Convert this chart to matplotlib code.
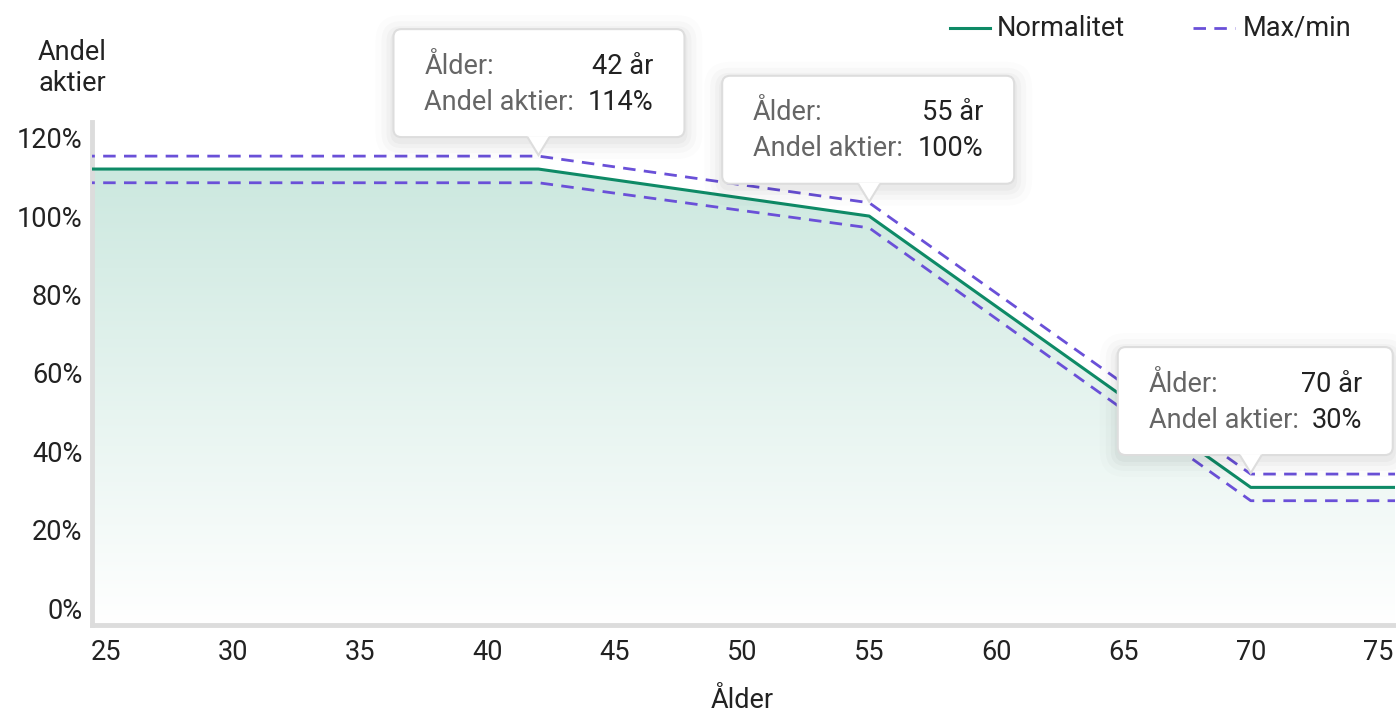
import matplotlib
matplotlib.use("Agg")
import matplotlib.pyplot as plt
import numpy as np
from matplotlib.patches import FancyBboxPatch, Polygon
from matplotlib.path import Path as MPath
from matplotlib.patches import PathPatch

plt.rcParams["font.family"] = ["Roboto", "DejaVu Sans"]

# data
ages = [20, 42, 55, 70, 80]
normal = [112, 112, 100, 30.8, 30.8]
upper = [115.3, 115.3, 103.4, 34.2, 34.2]
lower = [108.5, 108.5, 97.0, 27.4, 27.4]
x_ticks = [25, 30, 35, 40, 45, 50, 55, 60, 65, 70, 75]
y_ticks = [0, 20, 40, 60, 80, 100, 120]
tooltip_ages = [42, 55, 70]
tooltip_values = ["114%", "100%", "30%"]
tooltip_anchor = [115.3, 103.4, 34.2]

GREEN = "#0e8a66"
PURPLE = "#6a50d8"
AXIS = "#dcdcdc"
TEXT = "#222222"
FS = 19.5

W, H = 1396, 714
fig = plt.figure(figsize=(W / 100, H / 100), dpi=100)
ax = fig.add_axes([92 / W, (H - 625) / H, (1395 - 92) / W, (625 - 122) / H])
ax.set_xlim(24.45, 75.67)
ax.set_ylim(-4.3, 124)

# gradient fill under the main line
grad = np.linspace(0, 1, 256).reshape(-1, 1)
cmap = matplotlib.colors.LinearSegmentedColormap.from_list(
    "g", [(1, 1, 1, 1), (0.80, 0.91, 0.875, 1)])
img = ax.imshow(grad, cmap=cmap, aspect="auto", origin="lower",
                extent=[24.45, 75.67, -4.3, max(normal)], zorder=1)
verts = [(ages[0], -4.3)] + list(zip(ages, normal)) + [(ages[-1], -4.3)]
clip = Polygon(verts, closed=True, transform=ax.transData, facecolor="none", edgecolor="none")
ax.add_patch(clip)
img.set_clip_path(clip)

ax.plot(ages, upper, color=PURPLE, lw=2, ls=(0, (4.5, 3)), zorder=3)
ax.plot(ages, lower, color=PURPLE, lw=2, ls=(0, (4.5, 3)), zorder=3)
ax.plot(ages, normal, color=GREEN, lw=2.2, zorder=4)

for side in ["top", "right"]:
    ax.spines[side].set_visible(False)
for side in ["left", "bottom"]:
    ax.spines[side].set_color(AXIS)
    ax.spines[side].set_linewidth(3.5)
ax.set_xticks(x_ticks)
ax.set_yticks(y_ticks)
ax.set_yticklabels([f"{v}%" for v in y_ticks])
ax.tick_params(length=0, labelsize=FS, colors=TEXT)
ax.tick_params(axis="y", pad=7)
ax.tick_params(axis="x", pad=10)

fig.text(742 / W, 1 - 701 / H, "Ålder", ha="center", va="center", fontsize=FS, color=TEXT)
fig.text(38 / W, 1 - 68 / H, "Andel\naktier", ha="left", va="center", fontsize=FS,
         color=TEXT, linespacing=1.2)

# legend
fig.lines.append(plt.Line2D([950 / W, 990 / W], [1 - 28 / H] * 2, color=GREEN, lw=2.2,
                            transform=fig.transFigure))
fig.text(997 / W, 1 - 28 / H, "Normalitet", ha="left", va="center", fontsize=FS, color=TEXT)
fig.lines.append(plt.Line2D([1193 / W, 1235 / W], [1 - 28 / H] * 2, color=PURPLE, lw=2,
                            ls=(0, (4.5, 3)), transform=fig.transFigure))
fig.text(1243 / W, 1 - 28 / H, "Max/min", ha="left", va="center", fontsize=FS, color=TEXT)

# tooltips (box offsets in pixels from anchor point)
fig.canvas.draw()
box_specs = [(-145, 146, 128), (-147, 145, 128), (-133, 142, 127)]
for (age, val, yv), (dl, dr, dh) in zip(zip(tooltip_ages, tooltip_values, tooltip_anchor), box_specs):
    px, py = ax.transData.transform((age, yv))
    bx0, bx1 = px + dl, px + dr
    by0 = py + 19
    by1 = by0 + 108
    # soft shadow
    for k, a in [(18, 0.012), (12, 0.018), (7, 0.022), (3, 0.028)]:
        sh = FancyBboxPatch((bx0 - k, by0 - k - 4), bx1 - bx0 + 2 * k, by1 - by0 + 2 * k,
                            boxstyle=f"round,pad=0,rounding_size={8 + k}", transform=None,
                            facecolor="black", edgecolor="none", alpha=a, zorder=8)
        fig.patches.append(sh)
    box = FancyBboxPatch((bx0, by0), bx1 - bx0, by1 - by0,
                         boxstyle="round,pad=0,rounding_size=8", transform=None,
                         facecolor="white", edgecolor="#dddddd", lw=1.5, zorder=9)
    fig.patches.append(box)
    tri = Polygon([(px - 11, by0 + 1), (px + 11, by0 + 1), (px, py + 1)], closed=True,
                  transform=None, facecolor="white", edgecolor="none", zorder=10)
    fig.patches.append(tri)
    edge = MPath([(px - 11, by0), (px, py + 1), (px + 11, by0)])
    fig.patches.append(PathPatch(edge, transform=None, facecolor="none",
                                 edgecolor="#dddddd", lw=1.5, zorder=10))
    tx0 = bx0 + 31
    tx1 = bx1 - 31
    fig.text(tx0 / W, (by1 - 37) / H, "Ålder:", ha="left", va="center", fontsize=FS,
             color="#666666", zorder=11)
    fig.text(tx1 / W, (by1 - 37) / H, f"{age} år", ha="right", va="center", fontsize=FS,
             color=TEXT, zorder=11)
    fig.text(tx0 / W, (by1 - 73) / H, "Andel aktier:", ha="left", va="center", fontsize=FS,
             color="#666666", zorder=11)
    fig.text(tx1 / W, (by1 - 73) / H, val, ha="right", va="center", fontsize=FS,
             color=TEXT, zorder=11)

fig.savefig("out.png", dpi=100)
